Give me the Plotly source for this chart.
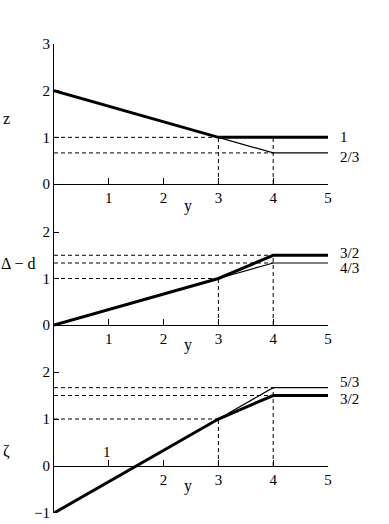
import plotly.graph_objects as go

# ---- data ----
# Panel 1: z vs y
z_thick_x = [0, 3, 4, 5]
z_thick_y = [2, 1, 1, 1]
z_thin_x = [3, 4, 5]
z_thin_y = [1, 2/3, 2/3]
# Panel 2: Δ − d vs y
d_thick_x = [0, 3, 4, 5]
d_thick_y = [0, 1, 1.5, 1.5]
d_thin_x = [3, 4, 5]
d_thin_y = [1, 4/3, 4/3]
# Panel 3: ζ vs y
k_thick_x = [0, 3, 4, 5]
k_thick_y = [-1, 1, 1.5, 1.5]
k_thin_x = [3, 4, 5]
k_thin_y = [1, 5/3, 5/3]

x_ticks = [1, 2, 3, 4, 5]
panel_yticks = [[0, 1, 2, 3], [0, 1, 2], [-1, 0, 1, 2]]
panel_ylabels = ["z", "Δ − d", "ζ"]
end_labels = [["1", "2/3"], ["3/2", "4/3"], ["5/3", "3/2"]]
end_values = [[1, 2/3], [1.5, 4/3], [5/3, 1.5]]

# guide lines: horizontal from 0 to x_end at level; vertical from 0 up to top
guides = [
    {"h": [(3, 1), (4, 2/3)], "v": [(3, 1), (4, 1)]},
    {"h": [(3, 1), (4, 4/3), (4, 1.5)], "v": [(3, 1), (4, 1.5)]},
    {"h": [(3, 1), (4, 1.5), (4, 5/3)], "v": [(3, 1), (4, 5/3)]},
]

# ---- layout geometry ----
W, H = 389, 524
ML, MR, MT, MB = 54, 61, 44, 11
PW = W - ML - MR
ranges = [[-0.771, 3], [-0.753, 2.258], [-1, 2.255]]
domains = [[0.6247, 1.0], [0.3262, 0.6247], [0.0, 0.3262]]
label_shift = [[0, -4], [2, -5], [6, -3]]

FONT = "Liberation Serif"
FS = 15
fig = go.Figure()

thick = [(z_thick_x, z_thick_y), (d_thick_x, d_thick_y), (k_thick_x, k_thick_y)]
thin = [(z_thin_x, z_thin_y), (d_thin_x, d_thin_y), (k_thin_x, k_thin_y)]

for i in range(3):
    xa = "x" if i == 0 else f"x{i+1}"
    ya = "y" if i == 0 else f"y{i+1}"
    g = guides[i]
    for xe, yl in g["h"]:
        fig.add_trace(go.Scatter(x=[0, xe], y=[yl, yl], mode="lines",
                                 line=dict(color="black", width=1, dash="4px,3px"),
                                 xaxis=xa, yaxis=ya, showlegend=False, hoverinfo="skip"))
    for xv, yt in g["v"]:
        fig.add_trace(go.Scatter(x=[xv, xv], y=[0, yt], mode="lines",
                                 line=dict(color="black", width=1, dash="4px,3px"),
                                 xaxis=xa, yaxis=ya, showlegend=False, hoverinfo="skip"))
    fig.add_trace(go.Scatter(x=thin[i][0], y=thin[i][1], mode="lines",
                             line=dict(color="black", width=1.2),
                             xaxis=xa, yaxis=ya, showlegend=False, cliponaxis=False))
    fig.add_trace(go.Scatter(x=thick[i][0], y=thick[i][1], mode="lines",
                             line=dict(color="black", width=3),
                             xaxis=xa, yaxis=ya, showlegend=False, cliponaxis=False))

layout = dict(
    width=W, height=H,
    margin=dict(l=ML, r=MR, t=MT, b=MB, autoexpand=False),
    plot_bgcolor="white", paper_bgcolor="white",
    font=dict(family=FONT, size=FS, color="black"),
    showlegend=False,
)
annotations = []
for i in range(3):
    xk = "xaxis" if i == 0 else f"xaxis{i+1}"
    yk = "yaxis" if i == 0 else f"yaxis{i+1}"
    yref = "y" if i == 0 else f"y{i+1}"
    r0, r1 = ranges[i]
    d0, d1 = domains[i]
    zero_pos = d0 + (0 - r0) / (r1 - r0) * (d1 - d0)
    ticktext = [str(v) for v in x_ticks]
    if i == 2:
        ticktext[0] = ""
    layout[xk] = dict(
        range=[0, 5], domain=[0, 1], anchor="free", position=zero_pos,
        showline=True, linecolor="black", linewidth=1, automargin=False,
        ticks="inside", ticklen=6, tickwidth=1, tickcolor="black",
        tickvals=x_ticks, ticktext=ticktext, showgrid=False, zeroline=False,
        tickfont=dict(family=FONT, size=FS),
    )
    layout[yk] = dict(
        range=[r0, r1], domain=[d0, d1], anchor="x" if i == 0 else f"x{i+1}",
        showline=True, linecolor="black", linewidth=1, automargin=False,
        ticks="inside", ticklen=5, tickwidth=1, tickcolor="black",
        tickvals=panel_yticks[i], showgrid=False, zeroline=False,
        tickfont=dict(family=FONT, size=FS),
    )
    # y-variable label
    annotations.append(dict(text="y", x=(188 - ML) / PW, xref="paper", xanchor="center",
                            y=[-0.47, -0.42, -0.43][i], yref=yref, showarrow=False,
                            font=dict(family=FONT, size=16)))
    # axis title
    annotations.append(dict(text=panel_ylabels[i], x=([6, 18, 6][i] - ML) / PW, xref="paper",
                            xanchor="center",
                            y=[1.41, 1.33, 0.32][i], yref=yref, showarrow=False,
                            font=dict(family=FONT, size=16)))
    # end labels
    for j, (lab, val) in enumerate(zip(end_labels[i], end_values[i])):
        annotations.append(dict(text=lab, x=(338 - ML) / PW, xref="paper",
                                xanchor="left", y=val, yref=yref, showarrow=False,
                                yshift=label_shift[i][j],
                                font=dict(family=FONT, size=FS)))

# panel 3 "1" tick label above the axis
annotations.append(dict(text="1", x=(107 - ML) / PW, xref="paper", xanchor="center",
                        y=0.3, yref="y3", showarrow=False, font=dict(family=FONT, size=FS)))
layout["annotations"] = annotations
fig.update_layout(**layout)
fig.write_html("out.html")
